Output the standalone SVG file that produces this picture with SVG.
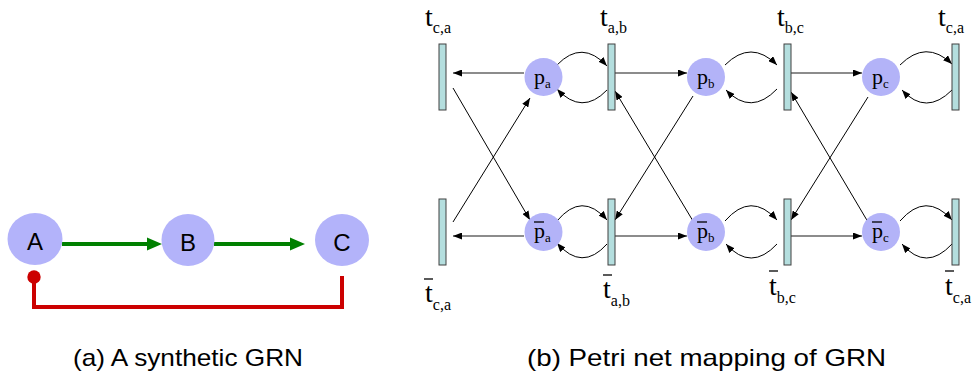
<svg xmlns="http://www.w3.org/2000/svg" width="972" height="376" viewBox="0 0 972 376">
<defs>
<marker id="ah" markerUnits="userSpaceOnUse" markerWidth="9" markerHeight="7" refX="9" refY="3.5" orient="auto"><path d="M0,0 L9,3.5 L0,7 z" fill="#000"/></marker>
<marker id="ag" markerUnits="userSpaceOnUse" markerWidth="15" markerHeight="14" refX="2" refY="7" orient="auto"><path d="M0,0.5 L15,7 L0,13.5 z" fill="#008000"/></marker>
</defs>
<style>
.gn{fill:#b3b3fa}
.gl{font-family:"Liberation Sans",Arial,sans-serif;font-size:24px;text-anchor:middle;fill:#000}
.pl{fill:#b3b3f8}
.tr{fill:#b4dede;stroke:#404040;stroke-width:1}
.ser{font-family:"Liberation Serif","Times New Roman",serif;fill:#000}
.tt{font-size:28px}
.ts{font-size:16px}
.pp{font-size:22px}
.ps{font-size:13px}
.bar{stroke:#000;stroke-width:1.3}
.h{stroke:#666;stroke-width:1.5;fill:none;marker-end:url(#ah)}
.c{stroke:#000;stroke-width:1;fill:none;marker-end:url(#ah)}
.g{stroke:#008000;stroke-width:4;fill:none;marker-end:url(#ag)}
.r{stroke:#cc0000;stroke-width:4;fill:none}
.cap{font-family:"Liberation Sans",Arial,sans-serif;font-size:24px;fill:#000}
</style>

<!-- Left panel: GRN -->
<g id="connectors-grn">
<path class="g" d="M62,244 H149"/>
<path class="g" d="M214,244 H292"/>
<path class="r" d="M342,276 V307 H34 V280"/>
<circle cx="34" cy="277" r="6.7" fill="#cc0000"/>
</g>
<g id="node-A"><ellipse class="gn" cx="35" cy="239" rx="27.5" ry="26"/><text class="gl" x="35" y="250">A</text></g>
<g id="node-B"><ellipse class="gn" cx="188" cy="240" rx="26.5" ry="26"/><text class="gl" x="188" y="251">B</text></g>
<g id="node-C"><ellipse class="gn" cx="342" cy="240" rx="27" ry="26"/><text class="gl" x="342" y="251">C</text></g>

<!-- Right panel: Petri net -->
<g id="connectors-petri">
<path class="h" d="M524,73 H453"/>
<path class="h" d="M615,73 H687"/>
<path class="h" d="M791,73 H862"/>
<path class="h" d="M524,236 H453"/>
<path class="h" d="M615,236 H687"/>
<path class="h" d="M791,236 H862"/>
<path class="c" d="M557,65 Q582,39 607,66"/>
<path class="c" d="M607,90 Q582,116 557,89"/>
<path class="c" d="M725,65 Q751,39 777,65"/>
<path class="c" d="M777,89 Q751,116 726,90"/>
<path class="c" d="M900,65 Q926,39 952,64"/>
<path class="c" d="M952,90 Q926,116 902,90"/>
<path class="c" d="M557,221 Q582,191 607,220"/>
<path class="c" d="M607,244 Q582,272 557,243"/>
<path class="c" d="M725,221 Q751,191 777,220"/>
<path class="c" d="M777,244 Q751,272 726,244"/>
<path class="c" d="M900,221 Q926,191 952,220"/>
<path class="c" d="M952,244 Q926,272 902,244"/>
<path class="c" d="M453,88 L530,220"/>
<path class="c" d="M453,222 L530,98"/>
<path class="c" d="M693,96 L615,220"/>
<path class="c" d="M693,221 L615,91"/>
<path class="c" d="M868,97 L791,220"/>
<path class="c" d="M868,222 L791,92"/>
</g>

<g id="t-ca-top-left"><rect class="tr" x="439" y="44" width="7" height="66"/><text class="ser" x="425" y="26"><tspan class="tt">t</tspan><tspan class="ts" dy="7">c,a</tspan></text></g>
<g id="t-ab"><rect class="tr" x="608" y="44" width="7" height="66"/><text class="ser" x="600" y="26"><tspan class="tt">t</tspan><tspan class="ts" dy="7">a,b</tspan></text></g>
<g id="t-bc"><rect class="tr" x="784" y="44" width="7" height="66"/><text class="ser" x="777" y="26"><tspan class="tt">t</tspan><tspan class="ts" dy="7">b,c</tspan></text></g>
<g id="t-ca-top-right"><rect class="tr" x="952" y="44" width="7" height="66"/><text class="ser" x="938" y="26"><tspan class="tt">t</tspan><tspan class="ts" dy="7">c,a</tspan></text></g>

<g id="tbar-ca-left"><rect class="tr" x="439" y="199" width="7" height="66"/><line class="bar" x1="424" y1="279" x2="433" y2="279"/><text class="ser" x="425" y="302"><tspan class="tt">t</tspan><tspan class="ts" dy="8">c,a</tspan></text></g>
<g id="tbar-ab"><rect class="tr" x="608" y="199" width="7" height="66"/><line class="bar" x1="603" y1="275" x2="612" y2="275"/><text class="ser" x="603" y="298"><tspan class="tt">t</tspan><tspan class="ts" dy="8">a,b</tspan></text></g>
<g id="tbar-bc"><rect class="tr" x="784" y="199" width="7" height="66"/><line class="bar" x1="769" y1="271" x2="778" y2="271"/><text class="ser" x="769" y="295"><tspan class="tt">t</tspan><tspan class="ts" dy="8">b,c</tspan></text></g>
<g id="tbar-ca-right"><rect class="tr" x="952" y="199" width="7" height="66"/><line class="bar" x1="945" y1="271" x2="954" y2="271"/><text class="ser" x="945" y="295"><tspan class="tt">t</tspan><tspan class="ts" dy="8">c,a</tspan></text></g>

<g id="p-a"><circle class="pl" cx="543.5" cy="77" r="19"/><text class="ser" x="534" y="84"><tspan class="pp">p</tspan><tspan class="ps" dy="4">a</tspan></text></g>
<g id="p-b"><circle class="pl" cx="706" cy="77" r="19"/><text class="ser" x="697" y="84"><tspan class="pp">p</tspan><tspan class="ps" dy="4">b</tspan></text></g>
<g id="p-c"><circle class="pl" cx="881" cy="77" r="19"/><text class="ser" x="872" y="84"><tspan class="pp">p</tspan><tspan class="ps" dy="4">c</tspan></text></g>
<g id="pbar-a"><circle class="pl" cx="543.5" cy="232" r="19"/><line class="bar" x1="534" y1="222" x2="544" y2="222"/><text class="ser" x="534" y="238"><tspan class="pp">p</tspan><tspan class="ps" dy="4">a</tspan></text></g>
<g id="pbar-b"><circle class="pl" cx="706" cy="232" r="19"/><line class="bar" x1="697" y1="222" x2="707" y2="222"/><text class="ser" x="697" y="238"><tspan class="pp">p</tspan><tspan class="ps" dy="4">b</tspan></text></g>
<g id="pbar-c"><circle class="pl" cx="881" cy="232" r="19"/><line class="bar" x1="872" y1="222" x2="882" y2="222"/><text class="ser" x="872" y="238"><tspan class="pp">p</tspan><tspan class="ps" dy="4">c</tspan></text></g>

<text class="cap" x="73" y="366" textLength="230" lengthAdjust="spacingAndGlyphs">(a) A synthetic GRN</text>
<text class="cap" x="527" y="366" textLength="359" lengthAdjust="spacingAndGlyphs">(b) Petri net mapping of GRN</text>
</svg>
